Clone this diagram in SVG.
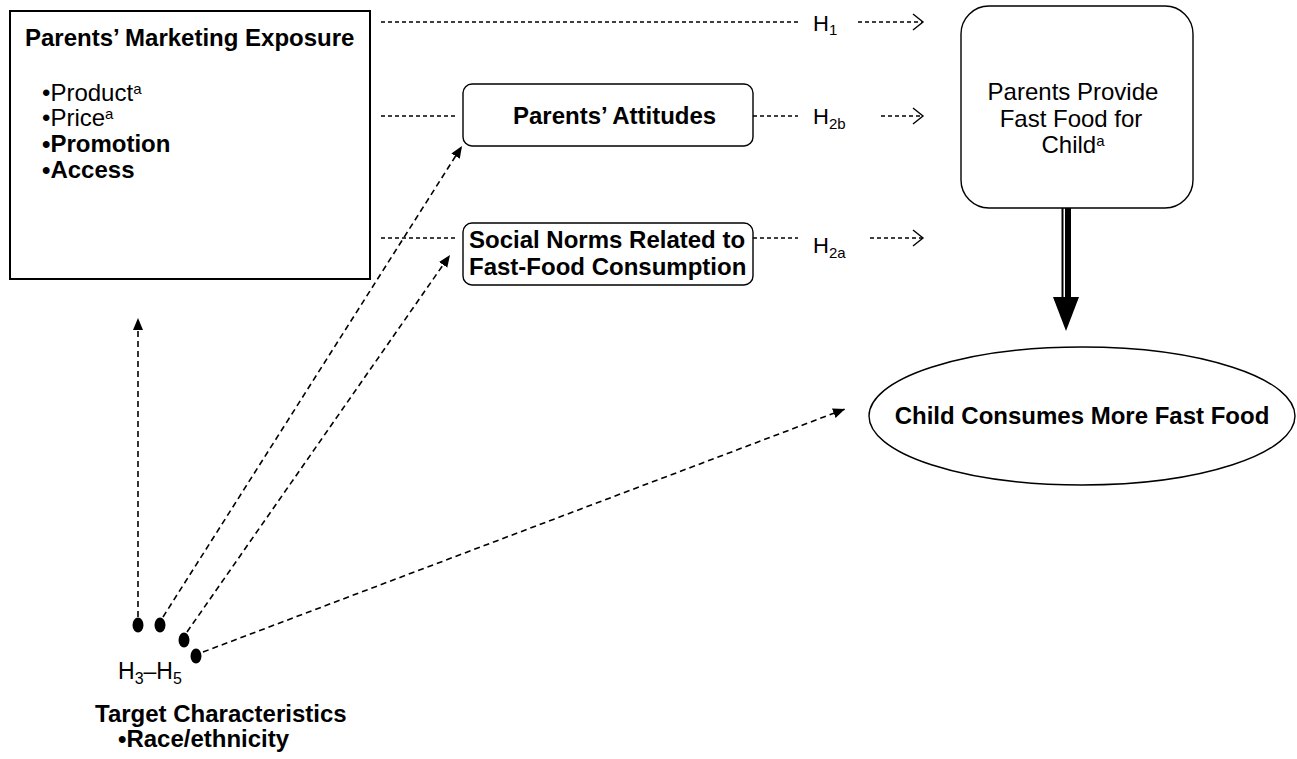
<svg xmlns="http://www.w3.org/2000/svg" width="1297" height="759" viewBox="0 0 1297 759">
<defs>
<style>
text{font-family:"Liberation Sans",Arial,Helvetica,sans-serif;fill:#000}
.b{font-weight:bold;font-size:24px}
.r{font-size:24px}
.h{font-size:22px}
.sub{font-size:15px}
.sup{font-size:15px}
.box{fill:#fff;stroke:#000;stroke-width:1.4}
.hd{fill:none;stroke:#000;stroke-width:1.3;stroke-dasharray:4 3}
.dd{fill:none;stroke:#000;stroke-width:1.6;stroke-dasharray:6 4}
.chev{fill:none;stroke:#000;stroke-width:1.4}
</style>
<marker id="fa" viewBox="0 0 12 12" refX="12" refY="6" markerWidth="12" markerHeight="12" markerUnits="userSpaceOnUse" orient="auto">
<path d="M0,1 L12,6 L0,11 Z" fill="#000"/>
</marker>
</defs>
<rect width="1297" height="759" fill="#fff"/>

<g id="connectors">
<line class="hd" x1="381" y1="22" x2="798" y2="22"/>
<line class="hd" x1="858" y1="22" x2="922" y2="22"/>
<polyline class="chev" points="913,14 923,22 913,30"/>
<line class="hd" x1="381" y1="116" x2="458" y2="116"/>
<line class="hd" x1="753" y1="116" x2="798" y2="116"/>
<line class="hd" x1="881" y1="116" x2="922" y2="116"/>
<polyline class="chev" points="913,108 923,116 913,124"/>
<line class="hd" x1="381" y1="238" x2="458" y2="238"/>
<line class="hd" x1="753" y1="238" x2="798" y2="238"/>
<line class="hd" x1="870" y1="238" x2="922" y2="238"/>
<polyline class="chev" points="913,230 923,238 913,246"/>
<line class="dd" x1="138" y1="617" x2="138" y2="318" marker-end="url(#fa)"/>
<line class="dd" x1="163" y1="617" x2="462" y2="146" marker-end="url(#fa)"/>
<line class="dd" x1="187" y1="632" x2="450" y2="255" marker-end="url(#fa)"/>
<line class="dd" x1="203" y1="652" x2="845" y2="409" marker-end="url(#fa)"/>
<line x1="1062.5" y1="208" x2="1062.5" y2="298" stroke="#000" stroke-width="2"/>
<line x1="1068" y1="208" x2="1068" y2="298" stroke="#000" stroke-width="6"/>
<path d="M1053,297 L1079,297 L1066,331 Z" fill="#000"/>
</g>

<g id="marketing">
<rect x="10" y="11" width="360" height="268" fill="#fff" stroke="#000" stroke-width="2"/>
<text class="b" x="25" y="46">Parents’ Marketing Exposure</text>
<text class="r" x="42" y="101">•Product<tspan class="sup" dy="-7">a</tspan></text>
<text class="r" x="42" y="126">•Price<tspan class="sup" dy="-7">a</tspan></text>
<text class="b" x="42" y="152">•Promotion</text>
<text class="b" x="42" y="178">•Access</text>
</g>

<g id="attitudes">
<rect class="box" x="463" y="84" width="290" height="62" rx="9"/>
<text class="b" x="513" y="124">Parents’ Attitudes</text>
</g>

<g id="norms">
<rect class="box" x="463" y="223" width="290" height="62" rx="9"/>
<text class="b" x="469" y="248">Social Norms Related to</text>
<text class="b" x="469" y="275">Fast-Food Consumption</text>
</g>

<g id="provide">
<rect class="box" x="961" y="6" width="232" height="202" rx="28"/>
<text class="r" x="1073" y="100" text-anchor="middle">Parents Provide</text>
<text class="r" x="1071" y="127" text-anchor="middle">Fast Food for</text>
<text class="r" x="1073" y="153" text-anchor="middle">Child<tspan class="sup" dy="-7">a</tspan></text>
</g>

<g id="consumes">
<ellipse class="box" cx="1082" cy="416" rx="213" ry="69"/>
<text class="b" x="1082" y="424" text-anchor="middle">Child Consumes More Fast Food</text>
</g>

<g id="labels">
<text class="h" x="813" y="31">H<tspan class="sub" dy="4">1</tspan></text>
<text class="h" x="813" y="124">H<tspan class="sub" dy="5">2b</tspan></text>
<text class="h" x="813" y="253">H<tspan class="sub" dy="5">2a</tspan></text>
</g>

<g id="target">
<ellipse cx="138" cy="625" rx="5.5" ry="7.5" fill="#000"/>
<ellipse cx="160" cy="625" rx="5.5" ry="7.5" fill="#000"/>
<ellipse cx="184" cy="640" rx="5.5" ry="7.5" fill="#000"/>
<ellipse cx="196" cy="656" rx="5.5" ry="7.5" fill="#000"/>
<text x="118" y="679" font-size="23">H<tspan font-size="16" dy="5">3</tspan><tspan dy="-5">–H</tspan><tspan font-size="16" dy="5">5</tspan></text>
<text class="b" x="95" y="722">Target Characteristics</text>
<text class="b" x="118" y="747">•Race/ethnicity</text>
</g>
</svg>
